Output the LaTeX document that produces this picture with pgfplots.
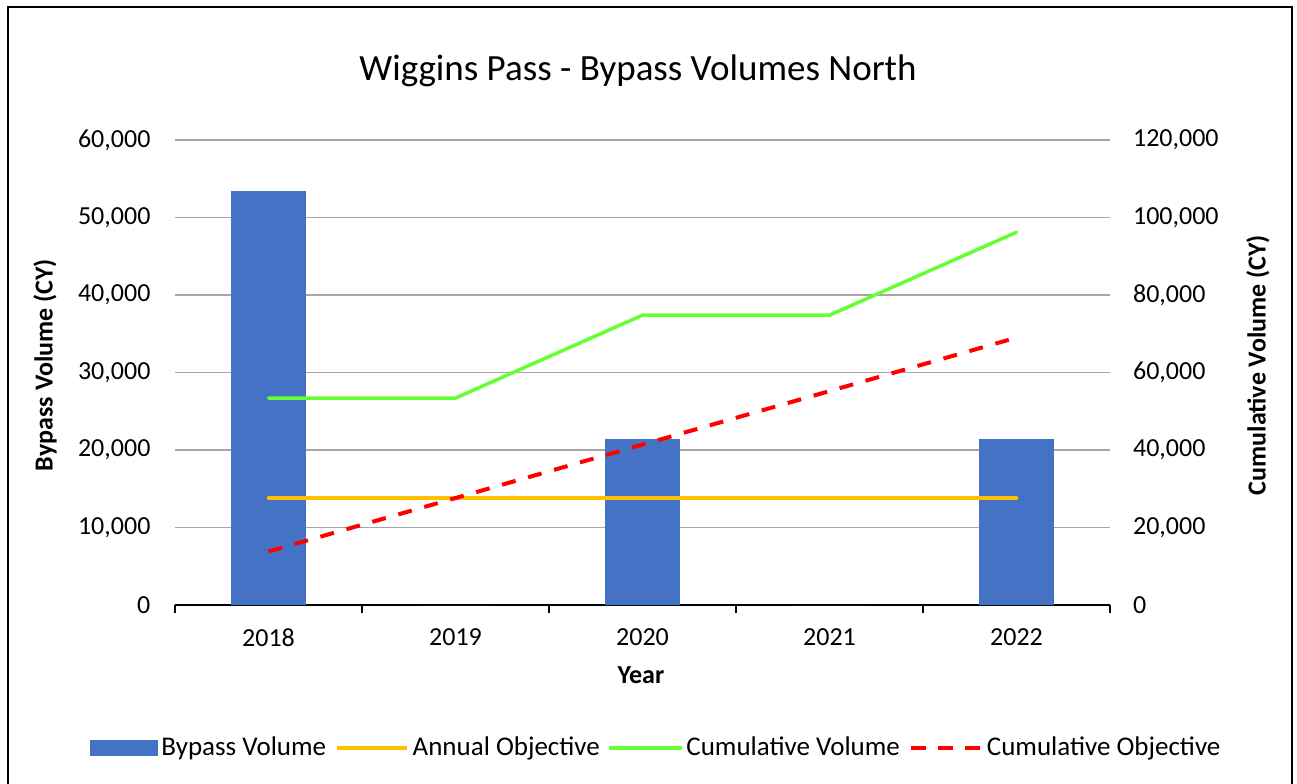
\documentclass[border=0pt]{standalone}
\usepackage{fontspec}
\setmainfont{Carlito}
\usepackage{pgfplots}
\pgfplotsset{compat=1.18}
\definecolor{barblue}{HTML}{4472C4}
\definecolor{annual}{HTML}{FFC000}
\definecolor{cumvol}{HTML}{66FF33}
\definecolor{gridgray}{HTML}{A6A6A6}
\begin{document}
\begin{tikzpicture}
\useasboundingbox (0,0) rectangle (648.5pt,391.5pt);
\fill[white] (0,0) rectangle (648.5pt,391.5pt);
\draw[black, line width=1pt] (4pt,-2pt) -- (4pt,388pt) -- (646pt,388pt) -- (646pt,-2pt);
\node[font=\fontsize{18.5}{22}\selectfont] at (319pt,356pt) {Wiggins Pass - Bypass Volumes North};
\node[font=\fontsize{13}{15}\selectfont\bfseries] at (320.5pt,54pt) {Year};
\node[font=\fontsize{13}{15}\selectfont\bfseries, rotate=90] at (22.5pt,209pt) {Bypass Volume (CY)};
\node[font=\fontsize{13}{15}\selectfont\bfseries, rotate=90] at (629pt,209pt) {Cumulative Volume (CY)};
\begin{axis}[
  at={(87.5pt,89pt)}, anchor=south west,
  width=467.5pt, height=232.5pt, scale only axis,
  xmin=-0.5, xmax=4.5,
  ymin=0, ymax=60000,
  axis y line*=left,
  axis x line*=bottom,
  x axis line style={black, line width=1pt, -},
  y axis line style={draw=none},
  xtick={0,1,2,3,4},
  xticklabels={2018,2019,2020,2021,2022},
  major x tick style={draw=none},
  minor xtick={-0.5,0.5,1.5,2.5,3.5,4.5},
  minor x tick style={black, line width=0.75pt},
  minor tick length=4pt,
  tick align=outside,
  xticklabel style={yshift=-4pt},
  ytick={0,10000,...,60000},
  major y tick style={draw=none},
  ymajorgrids, grid style={gridgray, line width=0.9pt},
  yticklabel style={xshift=-4.5pt},
  scaled y ticks=false,
  /pgf/number format/.cd, fixed, 1000 sep={,}, assume math mode=true,
  /pgfplots/.cd,
  tick label style={font=\fontsize{13}{15}\selectfont},
  clip=false,
]
\addplot[ybar, bar width=0.4, fill=barblue, draw=none] coordinates {(0,53400) (1,0) (2,21400) (3,0) (4,21400)};
\addplot[annual, line width=1.75pt, line cap=round] coordinates {(0,13800) (1,13800) (2,13800) (3,13800) (4,13800)};
\end{axis}
\begin{axis}[
  at={(87.5pt,89pt)}, anchor=south west,
  width=467.5pt, height=232.5pt, scale only axis,
  xmin=-0.5, xmax=4.5,
  ymin=0, ymax=120000,
  axis y line*=right,
  axis x line=none,
  xtick=\empty,
  y axis line style={draw=none},
  ytick={0,20000,40000,60000,80000,100000,120000},
  major y tick style={draw=none},
  yticklabel style={xshift=8pt},
  scaled y ticks=false,
  /pgf/number format/.cd, fixed, 1000 sep={,}, assume math mode=true,
  /pgfplots/.cd,
  tick label style={font=\fontsize{13}{15}\selectfont},
  clip=false,
  legend columns=4,
  legend style={draw=none, fill=none, at={(axis description cs:0.5155,-0.3075)}, anchor=center,
    font=\fontsize{13.5}{15}\selectfont,
    /tikz/every even column/.append style={column sep=2.5pt},
    /tikz/every odd column/.append style={column sep=0pt},
    inner sep=0pt},
  legend cell align=left,
]
\addlegendimage{legend image code/.code={\fill[barblue] (0pt,-3.75pt) rectangle (33.5pt,3.75pt);}}
\addlegendentry{Bypass Volume\hspace{4pt}}
\addlegendimage{legend image code/.code={\draw[annual, line width=1.75pt] (0pt,0pt) -- (35pt,0pt);}}
\addlegendentry{Annual Objective\hspace{4pt}}
\addplot[cumvol, line width=1.75pt, line cap=round, legend image code/.code={\draw[cumvol, line width=1.75pt] (0pt,0pt) -- (35pt,0pt);}] coordinates {(0,53400) (1,53400) (2,74800) (3,74800) (4,96200)};
\addlegendentry{Cumulative Volume\hspace{4pt}}
\addplot[red, line width=2pt, dash pattern=on 7pt off 6.5pt, legend image code/.code={\draw[red, line width=2pt, dash pattern=on 7.5pt off 6pt] (0pt,0pt) -- (35pt,0pt);}] coordinates {(0,13800) (1,27600) (2,41400) (3,55200) (4,69000)};
\addlegendentry{Cumulative Objective}
\end{axis}
\end{tikzpicture}
\end{document}
